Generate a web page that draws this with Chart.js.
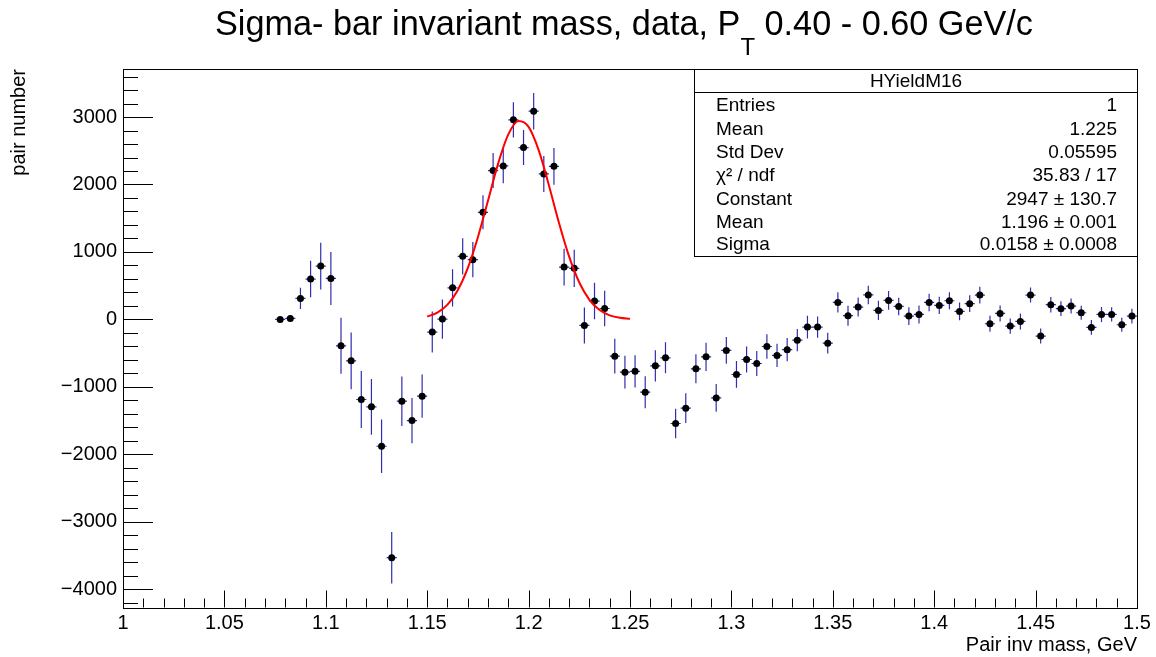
<!DOCTYPE html>
<html><head><meta charset="utf-8">
<script src="https://cdn.jsdelivr.net/npm/chart.js@4.4.0/dist/chart.umd.min.js"></script>
<style>html,body{margin:0;padding:0;background:#fff;overflow:hidden}#wrap{width:1156px;height:657px;position:relative}</style>
</head><body><div id="wrap"><canvas id="c" width="1156" height="657"></canvas></div>
<script>
// ---------- data ----------
const massBins = [1.0775,1.0825,1.0875,1.0925,1.0975,1.1025,1.1075,1.1125,1.1175,1.1225,1.1275,1.1325,1.1375,1.1425,1.1475,
  1.1525,1.1575,1.1625,1.1675,1.1725,1.1775,1.1825,1.1875,1.1925,1.1975,1.2025,1.2075,1.2125,1.2175,1.2225,
  1.2275,1.2325,1.2375,1.2425,1.2475,1.2525,1.2575,1.2625,1.2675,1.2725,1.2775,1.2825,1.2875,1.2925,1.2975,
  1.3025,1.3075,1.3125,1.3175,1.3225,1.3275,1.3325,1.3375,1.3425,1.3475,1.3525,1.3575,1.3625,1.3675,1.3725,
  1.3775,1.3825,1.3875,1.3925,1.3975,1.4025,1.4075,1.4125,1.4175,1.4225,1.4275,1.4325,1.4375,1.4425,1.4475,
  1.4525,1.4575,1.4625,1.4675,1.4725,1.4775,1.4825,1.4875,1.4925,1.4975];
const pairYield = [0,15,312,598,791,608,-391,-614,-1187,-1296,-1880,-3532,-1212,-1499,-1138,
  -188,5,468,935,886,1588,2207,2275,2958,2548,3087,2156,2270,776,757,
  -89,272,162,-544,-782,-770,-1079,-688,-569,-1543,-1316,-732,-554,-1163,-460,
  -816,-594,-653,-401,-534,-448,-307,-114,-114,-352,252,55,183,363,134,
  282,193,49,74,252,208,277,119,233,361,-64,89,-99,-30,361,
  -247,218,159,198,99,-119,74,74,-79,49];
const yieldErr = [10,10,156,270,346,393,415,420,423,413,396,381,366,336,321,
  304,292,277,270,260,252,260,257,260,260,270,267,272,272,277,
  267,270,262,257,242,240,237,232,230,218,220,215,210,205,198,
  198,193,185,183,173,171,166,168,158,153,151,148,141,138,143,
  138,130,133,133,129,129,126,131,124,124,119,119,114,119,111,
  111,114,109,111,104,109,111,106,104,109];
const binHalfWidth = 0.0025;
// fit curve
const fitMass = [1.150,1.155,1.160,1.165,1.170,1.175,1.180,1.185,1.190,1.195,1.200,1.205,1.210,1.215,1.220,1.225,1.230,1.235,1.240,1.245,1.250];
const fitCurve = [43,102,220,430,761,1219,1764,2313,2742,2941,2854,2506,1990,1430,930,547,291,140,61,24,9];

const xTickValues = [1,1.05,1.1,1.15,1.2,1.25,1.3,1.35,1.4,1.45,1.5];
const yTickValues = [-4000,-3000,-2000,-1000,0,1000,2000,3000];

const titleMain = "Sigma- bar invariant mass, data, P";
const titleSub = "T";
const titleRest = " 0.40 - 0.60 GeV/c";
const xAxisTitle = "Pair inv mass, GeV";
const yAxisTitle = "pair number";
const statsName = "HYieldM16";
const statLabels = ["Entries","Mean","Std Dev","\u03C7\u00B2 / ndf","Constant","Mean","Sigma"];
const statValues = ["1","1.225","0.05595","35.83 / 17","2947 \u00B1 130.7","1.196 \u00B1 0.001","0.0158 \u00B1 0.0008"];

// ---------- chart ----------
const FONT = "'Liberation Sans', Arial, Helvetica, sans-serif";

const errorBars = {
  id: 'errorBars',
  beforeDatasetsDraw(chart) {
    const {ctx, scales: {x, y}} = chart;
    ctx.save();
    ctx.strokeStyle = '#2e2eb0';
    ctx.lineWidth = 1.2;
    ctx.beginPath();
    for (let i = 0; i < massBins.length; i++) {
      const px = x.getPixelForValue(massBins[i]);
      const py = y.getPixelForValue(pairYield[i]);
      ctx.moveTo(px, y.getPixelForValue(pairYield[i] - yieldErr[i]));
      ctx.lineTo(px, y.getPixelForValue(pairYield[i] + yieldErr[i]));
      ctx.moveTo(x.getPixelForValue(massBins[i] - binHalfWidth), py);
      ctx.lineTo(x.getPixelForValue(massBins[i] + binHalfWidth), py);
    }
    ctx.stroke();
    ctx.restore();
  }
};

const frameAndTicks = {
  id: 'frameAndTicks',
  beforeDatasetsDraw(chart) {
    const {ctx, chartArea: a, scales: {x, y}} = chart;
    ctx.save();
    ctx.strokeStyle = '#000';
    ctx.lineWidth = 1;
    ctx.strokeRect(Math.round(a.left) + 0.5, Math.round(a.top) + 0.5, Math.round(a.right - a.left), Math.round(a.bottom - a.top));
    ctx.beginPath();
    // y ticks every 200, major every 1000
    for (let k = -21; k <= 18; k++) {
      const v = k * 200;
      if (v < y.min || v > y.max) continue;
      const py = Math.round(y.getPixelForValue(v)) + 0.5;
      const len = (k % 5 === 0) ? 30 : 15;
      ctx.moveTo(a.left, py);
      ctx.lineTo(a.left + len, py);
    }
    // x ticks every 0.01, major every 0.05
    for (let k = 0; k <= 50; k++) {
      const v = 1 + k * 0.01;
      const px = Math.round(x.getPixelForValue(v)) + 0.5;
      const len = (k % 5 === 0) ? 17 : 9;
      ctx.moveTo(px, a.bottom);
      ctx.lineTo(px, a.bottom - len);
    }
    ctx.stroke();
    ctx.restore();
  }
};

const titleAndStats = {
  id: 'titleAndStats',
  afterDraw(chart) {
    const {ctx, chartArea: a} = chart;
    ctx.save();
    // ---- title ----
    const targetLeft = 215, targetRight = 1033;
    const subRatio = 0.7;
    ctx.font = `100px ${FONT}`;
    const w1 = ctx.measureText(titleMain).width, w3 = ctx.measureText(titleRest).width;
    ctx.font = `${100 * subRatio}px ${FONT}`;
    const w2 = ctx.measureText(titleSub).width;
    const size = 100 * (targetRight - targetLeft) / (w1 + w2 + w3);
    const base = 35;
    let cx = targetLeft;
    ctx.fillStyle = '#000';
    ctx.textBaseline = 'alphabetic';
    ctx.textAlign = 'left';
    ctx.font = `${size}px ${FONT}`;
    ctx.fillText(titleMain, cx, base);
    cx += ctx.measureText(titleMain).width;
    ctx.font = `${size * subRatio}px ${FONT}`;
    ctx.fillText(titleSub, cx, base + 20);
    cx += ctx.measureText(titleSub).width;
    ctx.font = `${size}px ${FONT}`;
    ctx.fillText(titleRest, cx, base);

    // ---- stats box ----
    const bx = 694.5, by = Math.round(a.top) + 0.5, bw = Math.round(a.right) - 694, bh = 187;
    ctx.fillStyle = '#fff';
    ctx.fillRect(bx, by, bw, bh);
    ctx.strokeStyle = '#000';
    ctx.lineWidth = 1;
    ctx.strokeRect(bx, by, bw, bh);
    ctx.beginPath();
    ctx.moveTo(bx, 92.5); ctx.lineTo(bx + bw, 92.5);
    ctx.stroke();
    ctx.fillStyle = '#000';
    ctx.font = `19px ${FONT}`;
    ctx.textAlign = 'center';
    ctx.fillText(statsName, bx + bw / 2, 87);
    const rowY = [104, 128, 151, 174, 198, 221, 243];
    for (let i = 0; i < statLabels.length; i++) {
      ctx.textAlign = 'left';
      ctx.fillText(statLabels[i], 716, rowY[i] + 7);
      ctx.textAlign = 'right';
      ctx.fillText(statValues[i], 1117, rowY[i] + 7);
    }
    ctx.restore();
  }
};

function fmtX(v) { return String(Number(v.toFixed(2))); }
function fmtY(v) { return String(Math.round(v)).replace('-', '\u2212'); }

new Chart(document.getElementById('c'), {
  type: 'scatter',
  data: {
    datasets: [
      {
        label: 'fit',
        data: fitMass.map((m, i) => ({x: m, y: fitCurve[i]})),
        showLine: true,
        borderColor: '#ff0000',
        borderWidth: 2,
        pointRadius: 0,
        cubicInterpolationMode: 'monotone',
        fill: false
      },
      {
        label: statsName,
        data: massBins.map((m, i) => ({x: m, y: pairYield[i]})),
        pointRadius: 3.5,
        pointBackgroundColor: '#000',
        pointBorderWidth: 0,
        showLine: false
      }
    ]
  },
  options: {
    responsive: false,
    animation: false,
    devicePixelRatio: 1,
    layout: {padding: {top: 69, right: 19, left: 0, bottom: 0}},
    plugins: {legend: {display: false}, tooltip: {enabled: false}, title: {display: false}},
    scales: {
      x: {
        type: 'linear', min: 1, max: 1.5,
        grid: {display: false, drawTicks: false, tickLength: 0},
        border: {display: false},
        afterBuildTicks: s => { s.ticks = xTickValues.map(v => ({value: v})); },
        ticks: {color: '#000', padding: 4, maxRotation: 0, autoSkip: false,
          font: {family: FONT, size: 20}, callback: v => fmtX(v)},
        title: {display: true, text: xAxisTitle, align: 'end', color: '#000', padding: {top: 0, bottom: 0},
          font: {family: FONT, size: 20}},
        afterFit: s => { s.height = 49.5; }
      },
      y: {
        type: 'linear', min: -4270, max: 3712,
        grid: {display: false, drawTicks: false, tickLength: 0},
        border: {display: false},
        afterBuildTicks: s => { s.ticks = yTickValues.map(v => ({value: v})); },
        ticks: {color: '#000', padding: 6, autoSkip: false,
          font: {family: FONT, size: 20}, callback: v => fmtY(v)},
        title: {display: true, text: yAxisTitle, align: 'end', color: '#000', padding: {top: 7, bottom: 0},
          font: {family: FONT, size: 20}},
        afterFit: s => { s.width = 123; }
      }
    }
  },
  plugins: [frameAndTicks, errorBars, titleAndStats]
});
</script>
</body></html>
